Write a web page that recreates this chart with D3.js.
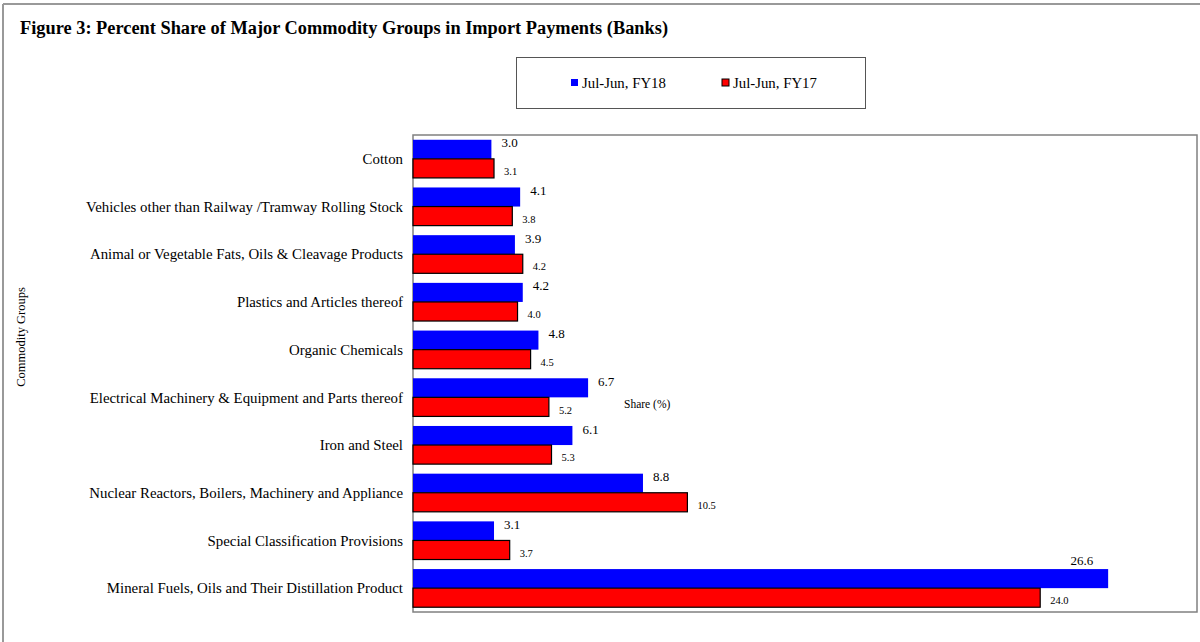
<!DOCTYPE html>
<html>
<head>
<meta charset="utf-8">
<script src="https://cdn.jsdelivr.net/npm/d3@7"></script>
<style>
  body { margin: 0; background: #fff; }
  svg { display: block; font-family: "Liberation Serif", "Times New Roman", serif; }
</style>
</head>
<body>
<div id="chart"></div>
<script>
const categories = [
  "Cotton",
  "Vehicles other than Railway /Tramway Rolling Stock",
  "Animal or Vegetable Fats, Oils & Cleavage Products",
  "Plastics and Articles thereof",
  "Organic Chemicals",
  "Electrical Machinery & Equipment and Parts thereof",
  "Iron and Steel",
  "Nuclear Reactors, Boilers, Machinery and Appliance",
  "Special Classification Provisions",
  "Mineral Fuels, Oils and Their Distillation Product"
];
const fy18 = [3.0, 4.1, 3.9, 4.2, 4.8, 6.7, 6.1, 8.8, 3.1, 26.6];
const fy17 = [3.1, 3.8, 4.2, 4.0, 4.5, 5.2, 5.3, 10.5, 3.7, 24.0];
const seriesNames = ["Jul-Jun, FY18", "Jul-Jun, FY17"];

const W = 1200, H = 642;
const plot = { left: 413, top: 135, right: 1197, bottom: 612 };

const svg = d3.select("#chart").append("svg")
  .attr("width", W).attr("height", H);

// outer frame (top and left edges only visible)
svg.append("line").attr("x1", 3).attr("x2", W).attr("y1", 4).attr("y2", 4)
  .attr("stroke", "#999").attr("stroke-width", 2);
svg.append("line").attr("x1", 3).attr("x2", 3).attr("y1", 4).attr("y2", H)
  .attr("stroke", "#999").attr("stroke-width", 2);

svg.append("text")
  .attr("x", 20).attr("y", 34)
  .attr("font-size", 18.5).attr("font-weight", "bold")
  .attr("textLength", 648).attr("lengthAdjust", "spacingAndGlyphs")
  .text("Figure 3: Percent Share of Major Commodity Groups in Import Payments (Banks)");

// legend
const legend = svg.append("g");
legend.append("rect")
  .attr("x", 516.5).attr("y", 57.5).attr("width", 349).attr("height", 51)
  .attr("fill", "none").attr("stroke", "#555").attr("stroke-width", 1);
const legendItems = [
  { name: seriesNames[0], color: "#0000ff", stroke: "none", x: 571 },
  { name: seriesNames[1], color: "#ff0000", stroke: "#000", x: 722 }
];
legendItems.forEach(d => {
  legend.append("rect")
    .attr("x", d.x).attr("y", 79).attr("width", 7).attr("height", 7)
    .attr("fill", d.color).attr("stroke", d.stroke).attr("stroke-width", 1);
  legend.append("text")
    .attr("x", d.x + 11).attr("y", 88)
    .attr("font-size", 14.8).text(d.name);
});

const x = d3.scaleLinear().domain([0, 30]).range([plot.left, plot.right]);
const y = d3.scaleBand().domain(categories).range([plot.top, plot.bottom]).paddingInner(0.2).paddingOuter(0.1);
const sub = d3.scaleBand().domain([0, 1]).range([0, y.bandwidth()]);

// plot frame
svg.append("rect")
  .attr("x", plot.left).attr("y", plot.top)
  .attr("width", plot.right - plot.left).attr("height", plot.bottom - plot.top)
  .attr("fill", "none").attr("stroke", "#808080").attr("stroke-width", 1.5);

// category labels
svg.append("g").selectAll("text")
  .data(categories).join("text")
  .attr("x", plot.left - 10)
  .attr("y", d => y(d) + y.bandwidth() / 2)
  .attr("dy", "0.35em")
  .attr("text-anchor", "end")
  .attr("font-size", 14.85)
  .text(d => d);

const rows = categories.map((c, i) => ({ c, a: fy18[i], b: fy17[i] }));

// FY18 bars
svg.append("g").selectAll("rect")
  .data(rows).join("rect")
  .attr("x", x(0))
  .attr("y", d => y(d.c) + sub(0))
  .attr("width", d => x(d.a) - x(0))
  .attr("height", sub.bandwidth())
  .attr("fill", "#0000ff");

// FY17 bars
svg.append("g").selectAll("rect")
  .data(rows).join("rect")
  .attr("x", x(0))
  .attr("y", d => y(d.c) + sub(1))
  .attr("width", d => x(d.b) - x(0))
  .attr("height", sub.bandwidth())
  .attr("fill", "#ff0000")
  .attr("stroke", "#000").attr("stroke-width", 1.2);

// value labels
svg.append("g").selectAll("text")
  .data(rows).join("text")
  .attr("x", d => d.a > 20 ? x(d.a) - 15 : x(d.a) + 10)
  .attr("y", d => y(d.c) + sub(0) + (d.a > 20 ? -4 : sub.bandwidth() / 2 - 2))
  .attr("text-anchor", d => d.a > 20 ? "end" : "start")
  .attr("font-size", 13)
  .text(d => d.a.toFixed(1));

svg.append("g").selectAll("text")
  .data(rows).join("text")
  .attr("x", d => x(d.b) + 10)
  .attr("y", d => y(d.c) + sub(1) + sub.bandwidth() / 2 + 3)
  .attr("dy", "0.35em")
  .attr("font-size", 10.5)
  .text(d => d.b.toFixed(1));

// axis titles
svg.append("text")
  .attr("transform", `translate(25,337) rotate(-90)`)
  .attr("text-anchor", "middle")
  .attr("font-size", 12.5)
  .text("Commodity Groups");

svg.append("text")
  .attr("x", 624).attr("y", 408)
  .attr("font-size", 11.5)
  .text("Share (%)");
</script>
</body>
</html>
